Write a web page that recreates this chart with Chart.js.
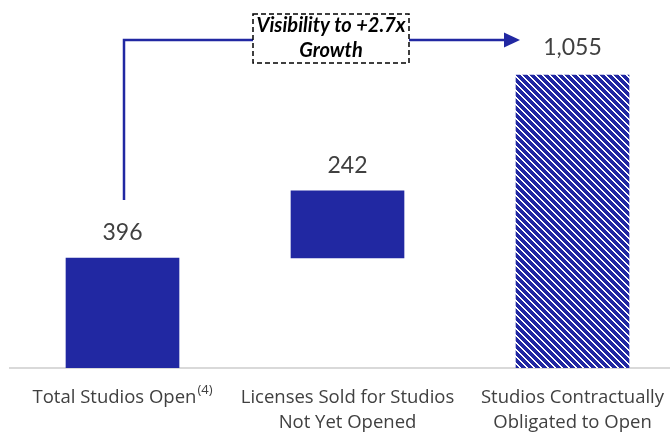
<!DOCTYPE html>
<html><head><meta charset="utf-8">
<script src="https://cdn.jsdelivr.net/npm/chart.js@4"></script>
<style>html,body{margin:0;padding:0;background:#fff}#wrap{width:670px;height:433px}</style>
</head><body><div id="wrap"><canvas id="c" width="670" height="433"></canvas></div>
<script>
const categories = [['Total Studios Open'], ['Licenses Sold for Studios', 'Not Yet Opened'], ['Studios Contractually', 'Obligated to Open']];
const footnotes = ['(4)', '', ''];
const barStarts = [0, 396, 0];
const barValues = [396, 242, 1055];
const valueLabels = ['396', '242', '1,055'];
const calloutLines = ['Visibility to +2.7x', 'Growth'];

const NAVY = '#2128A2';
const TEXT = '#404040';
const FONT = 'Lato, "Open Sans", sans-serif';
const LFONT = '"Open Sans", Lato, sans-serif';

const canvas = document.getElementById('c');
const ctx = canvas.getContext('2d');

function makePattern() {
  const t = document.createElement('canvas');
  t.width = 7; t.height = 7;
  const g = t.getContext('2d');
  g.fillStyle = '#fff'; g.fillRect(0, 0, 7, 7);
  g.fillStyle = NAVY;
  for (let y = 0; y < 7; y++) for (let x = 0; x < 7; x++) {
    if ((((x - y) % 7) + 7) % 7 < 5) g.fillRect(x, y, 1, 1);
  }
  return ctx.createPattern(t, 'repeat');
}
const hatch = makePattern();

const data = categories.map((c, i) => ({ x: i, y: [barStarts[i], barStarts[i] + barValues[i]] }));

const annot = {
  id: 'annot',
  afterDatasetsDraw(chart) {
    const c = chart.ctx;
    const meta = chart.getDatasetMeta(0);
    const bottom = chart.chartArea.bottom;
    c.save();
    // value labels
    c.fillStyle = TEXT;
    c.textAlign = 'center';
    c.textBaseline = 'alphabetic';
    c.font = '23px ' + FONT;
    meta.data.forEach((bar, i) => {
      const top = Math.min(bar.y, bar.base);
      c.fillText(valueLabels[i], bar.x, top - 18 - (i === 2 ? 2 : 0));
    });
    // category labels
    const LF = '18.5px ' + LFONT, SF = '13px ' + LFONT;
    meta.data.forEach((bar, i) => {
      const lines = categories[i];
      lines.forEach((ln, j) => {
        const y = bottom + 35 + j * 24.5;
        if (j === 0 && footnotes[i]) {
          c.font = LF;
          const w = c.measureText(ln).width;
          c.font = SF;
          const sw = c.measureText(footnotes[i]).width;
          const x0 = bar.x - (w + sw + 1) / 2;
          c.textAlign = 'left';
          c.font = LF;
          c.fillText(ln, x0, y);
          c.font = SF;
          c.fillText(footnotes[i], x0 + w + 1, y - 9);
          c.textAlign = 'center';
        } else {
          c.font = LF;
          c.fillText(ln, bar.x, y);
        }
      });
    });
    // arrow
    const b0 = meta.data[0], b2 = meta.data[2];
    const x0 = b0.x + 1.5;
    const y0 = Math.min(b0.y, b0.base) - 58;
    const yTop = Math.min(b2.y, b2.base) - 35;
    const tipX = b2.x - b2.width / 2 + 4;
    c.strokeStyle = NAVY;
    c.lineWidth = 2.5;
    c.beginPath();
    c.moveTo(x0, y0);
    c.lineTo(x0, yTop);
    c.lineTo(tipX - 14, yTop);
    c.stroke();
    c.fillStyle = NAVY;
    c.beginPath();
    c.moveTo(tipX, yTop);
    c.lineTo(tipX - 16, yTop - 7.5);
    c.lineTo(tipX - 16, yTop + 7.5);
    c.closePath();
    c.fill();
    // callout box
    const bx = 253, by = 14, bw = 156, bh = 49;
    c.fillStyle = '#fff';
    c.fillRect(bx, by, bw, bh);
    c.setLineDash([5, 3]);
    c.strokeStyle = '#000';
    c.lineWidth = 1.5;
    c.strokeRect(bx, by, bw, bh);
    c.setLineDash([]);
    c.fillStyle = '#000';
    c.textAlign = 'center';
    c.font = 'italic bold 20px ' + FONT;
    c.fillText(calloutLines[0], bx + bw / 2, 32);
    c.fillText(calloutLines[1], bx + bw / 2, 57);
    c.restore();
  }
};

new Chart(ctx, {
  type: 'bar',
  data: {
    datasets: [{
      data: data,
      backgroundColor: [NAVY, NAVY, hatch],
      borderWidth: 0,
      barThickness: 113
    }]
  },
  options: {
    responsive: false,
    animation: false,
    layout: { padding: { left: 10, right: 0, top: 7, bottom: 65 } },
    plugins: { legend: { display: false }, tooltip: { enabled: false } },
    scales: {
      x: {
        type: 'linear', offset: false, min: -0.5, max: 2.4333,
        grid: { display: false, drawTicks: false },
        ticks: { display: false },
        border: { display: true, color: '#d9d9d9', width: 2 }
      },
      y: { display: false, min: 0, max: 1300 }
    }
  },
  plugins: [annot]
});
</script>
</body></html>
